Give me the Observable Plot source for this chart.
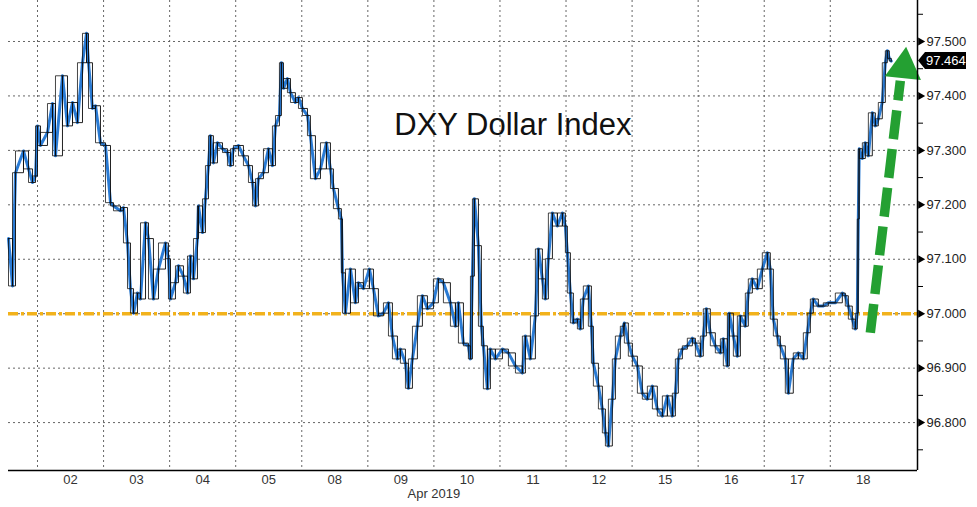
<!DOCTYPE html>
<html>
<head>
<meta charset="utf-8">
<script src="https://cdn.jsdelivr.net/npm/d3@7"></script>
<script src="https://cdn.jsdelivr.net/npm/@observablehq/plot@0.6"></script>
<style>
  html, body { margin: 0; padding: 0; background: #fff; }
  svg { display: block; }
</style>
</head>
<body>
<div id="chart"></div>
<script>
// ---- Data ----
// x = trading-day position (day "02" spans 1..2, "03" spans 2..3, ...), y = DXY level
const dxy = [
[0.561,97.138],[0.622,97.051],[0.667,97.259],[0.788,97.299],[0.864,97.266],[0.924,97.241],[0.970,97.253],[1.000,97.345],[1.045,97.309],[1.151,97.333],
[1.227,97.386],[1.272,97.290],[1.378,97.437],[1.454,97.345],[1.530,97.388],[1.605,97.351],[1.681,97.461],[1.742,97.515],[1.772,97.461],[1.832,97.377],
[1.878,97.382],[1.953,97.314],[2.029,97.309],[2.105,97.204],[2.150,97.198],[2.256,97.189],[2.301,97.195],[2.362,97.130],[2.407,97.046],[2.453,97.001],
[2.513,97.038],[2.559,97.027],[2.635,97.167],[2.680,97.138],[2.755,97.027],[2.831,97.082],[2.937,97.130],[2.982,97.101],[3.013,97.027],[3.088,97.057],
[3.134,97.088],[3.209,97.069],[3.270,97.038],[3.315,97.106],[3.361,97.064],[3.421,97.138],[3.436,97.198],[3.497,97.149],[3.542,97.211],[3.588,97.272],
[3.618,97.327],[3.663,97.277],[3.724,97.314],[3.800,97.303],[3.875,97.296],[3.921,97.272],[3.966,97.303],[4.042,97.309],[4.117,97.290],[4.193,97.272],
[4.254,97.241],[4.299,97.198],[4.344,97.248],[4.420,97.259],[4.496,97.303],[4.556,97.272],[4.602,97.345],[4.662,97.364],[4.692,97.461],[4.723,97.414],
[4.783,97.432],[4.829,97.406],[4.904,97.388],[4.950,97.397],[5.010,97.377],[5.086,97.364],[5.131,97.327],[5.207,97.248],[5.283,97.266],[5.373,97.314],
[5.434,97.266],[5.479,97.230],[5.555,97.193],[5.600,97.174],[5.616,97.075],[5.661,97.001],[5.737,97.082],[5.812,97.020],[5.858,97.057],[5.933,97.046],
[6.024,97.082],[6.085,97.046],[6.160,96.996],[6.236,97.001],[6.312,97.020],[6.372,96.959],[6.448,96.917],[6.493,96.935],[6.569,96.909],[6.614,96.863],
[6.675,96.917],[6.750,96.977],[6.826,97.033],[6.902,97.009],[6.993,97.020],[7.068,97.064],[7.144,97.057],[7.250,97.020],[7.326,96.977],[7.371,97.020],
[7.447,96.946],[7.522,96.941],[7.553,96.917],[7.583,97.069],[7.613,97.211],[7.674,97.125],[7.719,96.977],[7.749,96.941],[7.810,96.862],[7.855,96.935],
[7.931,96.917],[8.037,96.935],[8.128,96.928],[8.234,96.904],[8.339,96.891],[8.385,96.959],[8.461,96.917],[8.536,96.996],[8.582,97.119],[8.642,97.064],
[8.688,97.027],[8.733,97.101],[8.794,97.185],[8.869,97.161],[8.945,97.185],[8.990,97.161],[9.020,97.112],[9.066,97.038],[9.111,96.983],[9.172,96.990],
[9.217,96.972],[9.262,97.027],[9.338,97.051],[9.384,96.977],[9.414,96.909],[9.490,96.867],[9.550,96.825],[9.596,96.781],[9.641,96.757],[9.701,96.843],
[9.747,96.917],[9.822,96.959],[9.868,96.977],[9.883,96.983],[9.943,96.946],[10.004,96.922],[10.080,96.904],[10.155,96.854],[10.231,96.843],[10.307,96.867],
[10.382,96.825],[10.458,96.812],[10.534,96.849],[10.609,96.812],[10.655,96.854],[10.700,96.917],[10.761,96.935],[10.836,96.941],[10.912,96.955],[10.958,96.946],
[11.033,96.922],[11.078,96.959],[11.124,97.009],[11.184,96.965],[11.260,96.941],[11.336,96.928],[11.381,96.954],[11.442,96.904],[11.472,97.001],[11.533,96.959],
[11.593,96.922],[11.639,96.996],[11.714,96.977],[11.759,97.038],[11.820,97.064],[11.896,97.046],[11.971,97.082],[12.047,97.112],[12.092,97.082],[12.138,96.990],
[12.198,96.959],[12.244,96.941],[12.319,96.917],[12.365,96.854],[12.440,96.917],[12.516,96.928],[12.592,96.917],[12.652,96.965],[12.698,97.001],[12.743,97.027],
[12.819,97.014],[12.894,97.014],[12.970,97.020],[13.076,97.020],[13.182,97.038],[13.227,97.033],[13.273,97.014],[13.333,96.990],[13.379,96.972],[13.409,97.001],
[13.424,97.174],[13.439,97.303],[13.485,97.285],[13.530,97.314],[13.576,97.290],[13.636,97.369],[13.682,97.345],[13.727,97.358],[13.787,97.388],[13.833,97.461],
[13.863,97.483],[13.893,97.469],[13.923,97.464]
];

const dayLabels = ["02","03","04","05","08","09","10","11","12","15","16","17","18"];
const daySeparators = [1,2,3,4,5,6,7,8,9,10,11,12,13];
const monthLabel = ["Apr 2019"];
const monthLabelPos = 7;
const yTickValues = [96.8, 96.9, 97.0, 97.1, 97.2, 97.3, 97.4, 97.5];
const yMinorTicks = [96.75, 96.85, 96.95, 97.05, 97.15, 97.25, 97.35, 97.45, 97.55];
const referenceLevel = [97.0];
const lastValue = 97.464;
const title = ["DXY Dollar Index"];
const titlePos = {t: 8.196, v: 97.346};
const arrowShaft = [{x1: 13.606, y1: 96.965, x2: 14.06, y2: 97.428}];
const arrowHead = [{x: 14.115, y: 97.452}];

const xDomain = [0.561, 14.32];
const yDomain = [96.712, 97.5753];

// ---- Build ----
const series = dxy.map(([t, v]) => ({t, v}));
const font = "'Liberation Sans', Arial, sans-serif";
const gridStyle = {stroke: "#555", strokeOpacity: 0.9, strokeDasharray: "2,3", strokeWidth: 1};
const green = "#24a032";

const plot = Plot.plot({
  width: 977,
  height: 507,
  marginLeft: 8,
  marginRight: 60,
  marginTop: 0,
  marginBottom: 37,
  style: {fontFamily: font, fontSize: "13px", color: "#222", background: "#fff", overflow: "visible"},
  x: {domain: xDomain},
  y: {domain: yDomain},
  marks: [
    Plot.gridY({ticks: yTickValues, ...gridStyle}),
    Plot.gridX({ticks: daySeparators, ...gridStyle}),
    Plot.ruleY(referenceLevel, {stroke: "#f2b21c", strokeWidth: 3.5, strokeDasharray: "10,3,3,3"}),
    Plot.line(series, {x: "t", y: "v", stroke: "#2a7bd4", strokeWidth: 3}),
    Plot.line(series, {x: "t", y: "v", stroke: "#0a0a0a", strokeWidth: 1, strokeOpacity: 0.9, curve: "step-after"}),
    Plot.line(series, {x: "t", y: "v", stroke: "#0a0a0a", strokeWidth: 1, strokeOpacity: 0.75, curve: "step-before"}),
    Plot.link(arrowShaft, {x1: "x1", y1: "y1", x2: "x2", y2: "y2", stroke: green, strokeWidth: 9.5, strokeDasharray: "29,10"}),
    Plot.dot(arrowHead, {x: "x", y: "y", symbol: "triangle", r: 13.5, rotate: 6, fill: green, stroke: null}),
    Plot.text(title, {x: () => titlePos.t, y: () => titlePos.v, text: d => d, fontSize: 31, fill: "#111", textAnchor: "middle", lineAnchor: "middle", fontFamily: font}),
    Plot.ruleY([yDomain[0]], {stroke: "#000", strokeWidth: 1.5}),
    Plot.ruleX([xDomain[1]], {stroke: "#000", strokeWidth: 1.5}),
    Plot.axisX({ticks: dayLabels.map((_, i) => i + 1.5), tickFormat: d => dayLabels[Math.round(d - 1.5)], tickSize: 0, tickPadding: 4, fontSize: 13, fill: "#333"}),
    Plot.text(monthLabel, {x: () => monthLabelPos, frameAnchor: "bottom", dy: 27, text: d => d, fontSize: 13, fill: "#333"}),
    Plot.axisY({anchor: "right", ticks: yTickValues, tickSize: 0, tickPadding: 9, tickFormat: d3.format(".3f"), fontSize: 13, fill: "#222"}),
    Plot.axisY({anchor: "right", ticks: yMinorTicks, tickSize: 5, tickFormat: () => "", stroke: "#000"}),
    Plot.dot(yTickValues, {y: d => d, frameAnchor: "right", symbol: "triangle", rotate: 90, r: 3, fill: "#000", stroke: null, dx: 3})
  ]
});

document.getElementById("chart").appendChild(plot);

// last-value label box on the right axis
const ys = plot.scale("y");
const yFn = ys.apply ? (v) => ys.apply(v) : d3.scaleLinear(ys.domain, ys.range);
const xs = plot.scale("x");
const xr = Math.max(...xs.range);
const yy = yFn(lastValue);
const g = d3.select(plot).append("g");
g.append("path")
  .attr("d", `M${xr + 1},${yy} L${xr + 8},${yy - 8.5} H${xr + 49} V${yy + 8.5} H${xr + 8} Z`)
  .attr("fill", "#000");
g.append("text")
  .attr("x", xr + 9).attr("y", yy + 4.5)
  .attr("text-anchor", "start")
  .attr("fill", "#fff")
  .attr("font-family", font)
  .attr("font-size", 13)
  .text(d3.format(".3f")(lastValue));
</script>
</body>
</html>
